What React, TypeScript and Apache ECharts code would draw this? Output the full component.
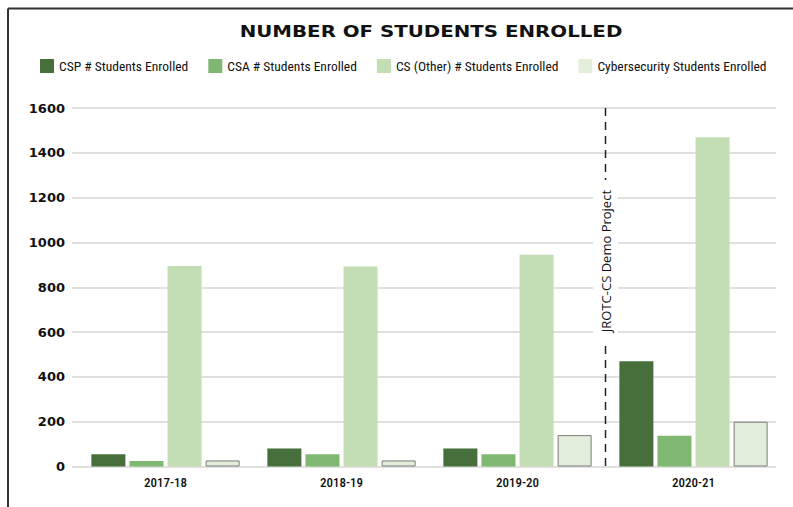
import React, { useEffect, useRef } from "react";
import * as echarts from "echarts";

const categories = ["2017-18", "2018-19", "2019-20", "2020-21"];
const cspValues = [55, 80, 80, 470];
const csaValues = [25, 55, 55, 137];
const csOtherValues = [895, 893, 945, 1470];
const cyberValues = [27, 27, 140, 200];
const seriesNames = [
  "CSP # Students Enrolled",
  "CSA # Students Enrolled",
  "CS (Other) # Students Enrolled",
  "Cybersecurity Students Enrolled",
];
const colors = ["#476f3c", "#80b872", "#c3deb4", "#e2edda"];
const yTicks = [0, 200, 400, 600, 800, 1000, 1200, 1400, 1600];
const titleText = "NUMBER OF STUDENTS ENROLLED";
const annotationText = "JROTC-CS Demo Project";

export default function App() {
  const ref = useRef<HTMLDivElement>(null);
  useEffect(() => {
    if (!ref.current) return;
    document.documentElement.style.overflow = "hidden";
    document.body.style.overflow = "hidden";
    document.body.style.margin = "0";
    const chart = echarts.init(ref.current, undefined, { renderer: "svg" });
    const yMax = yTicks[yTicks.length - 1];
    const gridTop = 108;
    const gridBottom = 40.5;
    const condensed = "'Roboto Condensed', 'Liberation Sans Narrow', 'DejaVu Sans Condensed', Roboto, sans-serif";
    const values = [cspValues, csaValues, csOtherValues, cyberValues];

    const frameAndTitle = [
      {
        type: "line",
        shape: { x1: 8, y1: 8.5, x2: 793, y2: 8.5 },
        style: { stroke: "#333", lineWidth: 2 },
        silent: true,
      },
      {
        type: "line",
        shape: { x1: 8, y1: 8.5, x2: 8, y2: 507 },
        style: { stroke: "#333", lineWidth: 2 },
        silent: true,
      },
      {
        type: "text",
        x: 431,
        y: 31,
        scaleX: 1.2,
        style: {
          text: titleText,
          fontFamily: "'DejaVu Sans', sans-serif",
          fontWeight: "bold",
          fontSize: 16.5,
          fill: "#111",
          textAlign: "center",
          textVerticalAlign: "middle",
        },
      },
    ];

    chart.setOption({
      animation: false,
      backgroundColor: "#ffffff",
      legend: {
        left: 40,
        top: 59,
        padding: 0,
        itemWidth: 14,
        itemHeight: 14,
        itemGap: 20,
        icon: "rect",
        data: seriesNames.map((name) => ({ name, itemStyle: { borderWidth: 0 } })),
        textStyle: { fontFamily: condensed, fontSize: 13.5, color: "#111" },
      },
      grid: [
        { left: 72, right: 17, top: gridTop, bottom: gridBottom },
        { left: 77.5, width: 704, top: gridTop, bottom: gridBottom },
      ],
      xAxis: [
        { type: "category", gridIndex: 0, data: categories, show: false },
        {
          type: "category",
          gridIndex: 1,
          data: categories,
          axisLine: { show: false },
          axisTick: { show: false },
          axisLabel: { margin: 9, fontFamily: condensed, fontSize: 13, fontWeight: 500, color: "#111" },
        },
      ],
      yAxis: [
        {
          type: "value",
          gridIndex: 0,
          min: 0,
          max: yMax,
          interval: 200,
          axisLine: { show: false },
          axisTick: { show: false },
          splitLine: { lineStyle: { color: "#d6d6d6", width: 1.5 } },
          axisLabel: {
            margin: 7,
            formatter: (v: number) => String(v),
            fontFamily: "'DejaVu Sans', sans-serif",
            fontWeight: "bold",
            fontSize: 13,
            color: "#111",
          },
        },
        { type: "value", gridIndex: 1, min: 0, max: yMax, interval: 200, show: false, splitLine: { show: false } },
      ],
      series: seriesNames.map((name, i) => ({
        name,
        type: "bar",
        xAxisIndex: 1,
        yAxisIndex: 1,
        data: values[i],
        barWidth: 34,
        barGap: "12%",
        itemStyle:
          i === 3
            ? { color: colors[i], borderColor: "#7c7c7c", borderWidth: 1 }
            : { color: colors[i] },
      })),
      graphic: frameAndTitle,
    });

    const p2 = chart.convertToPixel({ xAxisIndex: 1 }, categories[2]) as number;
    const p3 = chart.convertToPixel({ xAxisIndex: 1 }, categories[3]) as number;
    const xLine = (p2 + p3) / 2;
    const yTop = chart.convertToPixel({ yAxisIndex: 1 }, yMax) as number;
    const yBottom = chart.convertToPixel({ yAxisIndex: 1 }, 0) as number;
    chart.setOption(
      {
        graphic: [
          ...frameAndTitle,
          {
            type: "line",
            shape: { x1: xLine, y1: yTop, x2: xLine, y2: yBottom },
            style: { stroke: "#222", lineWidth: 1.5, lineDash: [8, 6] },
            silent: true,
          },
          {
            type: "text",
            x: xLine,
            y: yTop + (yBottom - yTop) * 0.427,
            rotation: Math.PI / 2,
            style: {
              text: annotationText,
              fontFamily: "'Open Sans', sans-serif",
              fontSize: 13,
              fill: "#111",
              textAlign: "center",
              textVerticalAlign: "middle",
              backgroundColor: "#ffffff",
              padding: [6, 10],
            },
          },
        ],
      },
      { replaceMerge: ["graphic"] }
    );

    return () => chart.dispose();
  }, []);
  return <div ref={ref} style={{ width: 793, height: 507, position: "absolute", left: 0, top: 0 }} />;
}
